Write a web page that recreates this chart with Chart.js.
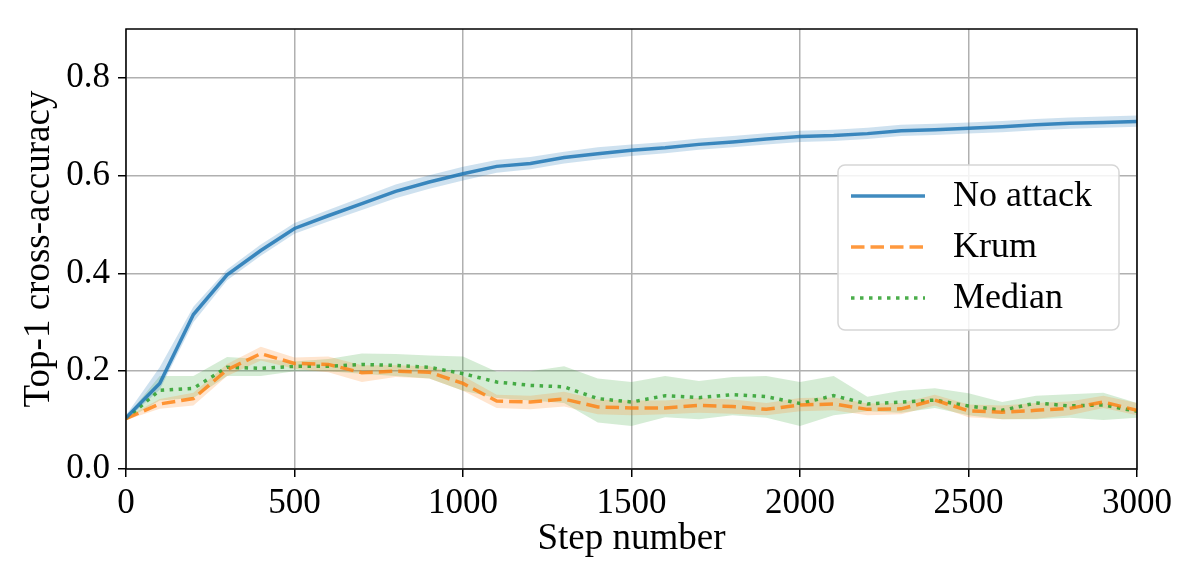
<!DOCTYPE html>
<html>
<head>
<meta charset="utf-8">
<title>Top-1 cross-accuracy</title>
<script src="https://cdn.jsdelivr.net/npm/chart.js@4.4.1/dist/chart.umd.min.js"></script>
<style>
  html, body { margin: 0; padding: 0; background: #fff; }
  #wrap { width: 1196px; height: 583px; }
</style>
</head>
<body>
<div id="wrap"><canvas id="accChart" width="1196" height="583"></canvas></div>
<script>
"use strict";

// Steps (x) and tick labels
const steps = [0, 100, 200, 300, 400, 500, 600, 700, 800, 900, 1000, 1100, 1200, 1300, 1400, 1500,
  1600, 1700, 1800, 1900, 2000, 2100, 2200, 2300, 2400, 2500, 2600, 2700, 2800, 2900, 3000];
const xTicks = [0, 500, 1000, 1500, 2000, 2500, 3000];
const yTicks = [0, 0.2, 0.4, 0.6, 0.8];

// No attack
const noAttack = [0.105, 0.175, 0.316, 0.397, 0.447, 0.492, 0.518, 0.543, 0.568, 0.587, 0.604, 0.619, 0.625, 0.637, 0.645, 0.652,
  0.657, 0.664, 0.669, 0.675, 0.680, 0.682, 0.686, 0.692, 0.694, 0.697, 0.700, 0.704, 0.707, 0.709, 0.711];
const noAttackLow = [0.100, 0.162, 0.300, 0.386, 0.436, 0.481, 0.506, 0.530, 0.554, 0.573, 0.590, 0.606, 0.613, 0.625, 0.633, 0.640,
  0.646, 0.653, 0.658, 0.664, 0.669, 0.671, 0.675, 0.681, 0.683, 0.686, 0.689, 0.693, 0.696, 0.698, 0.700];
const noAttackHigh = [0.110, 0.208, 0.332, 0.408, 0.459, 0.503, 0.530, 0.556, 0.582, 0.601, 0.618, 0.632, 0.638, 0.649, 0.658, 0.664,
  0.669, 0.676, 0.681, 0.687, 0.692, 0.694, 0.698, 0.704, 0.706, 0.709, 0.712, 0.716, 0.719, 0.721, 0.723];

// Krum
const krum = [0.103, 0.133, 0.144, 0.203, 0.236, 0.216, 0.214, 0.197, 0.200, 0.198, 0.175, 0.139, 0.137, 0.143, 0.127, 0.125,
  0.125, 0.130, 0.128, 0.122, 0.131, 0.133, 0.122, 0.123, 0.141, 0.119, 0.116, 0.120, 0.124, 0.137, 0.120];
const krumLow = [0.100, 0.123, 0.130, 0.190, 0.222, 0.205, 0.198, 0.178, 0.188, 0.185, 0.160, 0.125, 0.122, 0.128, 0.112, 0.110,
  0.112, 0.115, 0.113, 0.110, 0.118, 0.120, 0.110, 0.112, 0.130, 0.106, 0.102, 0.103, 0.110, 0.125, 0.110];
const krumHigh = [0.106, 0.143, 0.156, 0.215, 0.250, 0.228, 0.230, 0.212, 0.212, 0.210, 0.190, 0.152, 0.150, 0.158, 0.142, 0.140,
  0.140, 0.145, 0.142, 0.135, 0.145, 0.146, 0.134, 0.135, 0.152, 0.132, 0.130, 0.135, 0.138, 0.150, 0.135];

// Median
const median = [0.103, 0.161, 0.165, 0.208, 0.206, 0.210, 0.210, 0.214, 0.212, 0.208, 0.195, 0.178, 0.171, 0.168, 0.144, 0.137,
  0.150, 0.146, 0.152, 0.148, 0.134, 0.150, 0.133, 0.137, 0.141, 0.129, 0.120, 0.135, 0.129, 0.131, 0.118];
const medianLow = [0.100, 0.140, 0.145, 0.190, 0.190, 0.200, 0.200, 0.195, 0.190, 0.185, 0.160, 0.145, 0.140, 0.135, 0.095, 0.088,
  0.106, 0.102, 0.110, 0.105, 0.088, 0.110, 0.118, 0.115, 0.125, 0.110, 0.102, 0.102, 0.105, 0.100, 0.105];
const medianHigh = [0.106, 0.190, 0.190, 0.229, 0.225, 0.220, 0.225, 0.236, 0.235, 0.232, 0.230, 0.199, 0.200, 0.210, 0.185, 0.178,
  0.190, 0.180, 0.188, 0.190, 0.178, 0.190, 0.148, 0.160, 0.165, 0.155, 0.137, 0.150, 0.153, 0.156, 0.135];

const SERIF = "'Liberation Serif', 'Times New Roman', serif";
const TICK_FONT = { family: SERIF, size: 35 };
const TITLE_FONT = { family: SERIF, size: 37 };
const LEGEND_SIZE = 36;

const pts = (ys) => ys.map((y, i) => ({ x: steps[i], y }));

function band(low, high, color) {
  // lower edge (invisible) + upper edge filled down to it
  return [
    { data: pts(low), borderWidth: 0, pointRadius: 0, fill: false, order: 2, legendKey: null },
    { data: pts(high), borderWidth: 0, pointRadius: 0, fill: "-1", backgroundColor: color, order: 2, legendKey: null },
  ];
}

function line(label, ys, color, dash) {
  return {
    label, data: pts(ys), borderColor: color, borderWidth: 3.5, borderDash: dash,
    borderCapStyle: "butt", pointRadius: 0, fill: false, tension: 0, order: 1, legendKey: label,
  };
}

const datasets = [
  ...band(noAttackLow, noAttackHigh, "rgba(31,119,180,0.22)"),
  ...band(krumLow, krumHigh, "rgba(255,127,14,0.2)"),
  ...band(medianLow, medianHigh, "rgba(44,160,44,0.2)"),
  line("No attack", noAttack, "rgba(31,119,180,0.85)", []),
  line("Krum", krum, "rgba(255,127,14,0.8)", [13.5, 6]),
  line("Median", median, "rgba(44,160,44,0.85)", [3.5, 5.5]),
];

// black box around the axes, like matplotlib spines
const frame = {
  id: "frame",
  afterDatasetsDraw(chart) {
    const { ctx, chartArea: a } = chart;
    ctx.save();
    ctx.strokeStyle = "#000";
    ctx.lineWidth = 1.5;
    ctx.strokeRect(a.left, a.top, a.right - a.left, a.bottom - a.top);
    ctx.restore();
  },
};

// legend box drawn inside the plot
const boxLegend = {
  id: "boxLegend",
  afterDraw(chart) {
    const { ctx } = chart;
    const items = chart.data.datasets.filter((d) => d.legendKey);
    const x0 = 838, y0 = 165, w = 281, h = 165;
    ctx.save();
    ctx.beginPath();
    ctx.roundRect(x0, y0, w, h, 7);
    ctx.fillStyle = "rgba(255,255,255,0.85)";
    ctx.fill();
    ctx.strokeStyle = "#d6d6d6";
    ctx.lineWidth = 1.5;
    ctx.stroke();
    ctx.font = `${LEGEND_SIZE}px ${SERIF}`;
    ctx.textBaseline = "middle";
    items.forEach((d, i) => {
      const y = 196 + i * 51;
      ctx.beginPath();
      ctx.setLineDash(d.borderDash);
      ctx.lineCap = "butt";
      ctx.strokeStyle = d.borderColor;
      ctx.lineWidth = d.borderWidth;
      ctx.moveTo(851, y);
      ctx.lineTo(925, y);
      ctx.stroke();
      ctx.setLineDash([]);
      ctx.fillStyle = "#000";
      ctx.fillText(d.label, 953, y + 1);
    });
    ctx.restore();
  },
};

const gridOpts = { color: "#b0b0b0", lineWidth: 1.5, tickColor: "#000", tickLength: 8, tickWidth: 1.5 };

new Chart(document.getElementById("accChart"), {
  type: "line",
  data: { datasets },
  options: {
    responsive: false,
    animation: false,
    devicePixelRatio: 1,
    layout: { padding: { top: 28, right: 59, left: 0, bottom: 0 } },
    plugins: { legend: { display: false }, tooltip: { enabled: false } },
    scales: {
      x: {
        type: "linear",
        min: 0,
        max: 3000,
        grid: gridOpts,
        border: { display: false },
        ticks: { font: TICK_FONT, color: "#000", padding: 6, maxRotation: 0, callback: (v) => String(v) },
        title: { display: true, text: "Step number", font: TITLE_FONT, color: "#000", padding: { top: 0, bottom: 22 } },
        afterBuildTicks: (s) => { s.ticks = xTicks.map((value) => ({ value })); },
        afterFit: (s) => { s.height = 114; },
      },
      y: {
        type: "linear",
        min: 0,
        max: 0.9,
        grid: gridOpts,
        border: { display: false },
        ticks: { font: TICK_FONT, color: "#000", padding: 8, callback: (v) => Number(v).toFixed(1) },
        title: { display: true, text: "Top-1 cross-accuracy", font: TITLE_FONT, color: "#000", padding: { top: 17, bottom: 0 } },
        afterBuildTicks: (s) => { s.ticks = yTicks.map((value) => ({ value })); },
        afterFit: (s) => { s.width = 126; },
      },
    },
  },
  plugins: [frame, boxLegend],
});
</script>
</body>
</html>
